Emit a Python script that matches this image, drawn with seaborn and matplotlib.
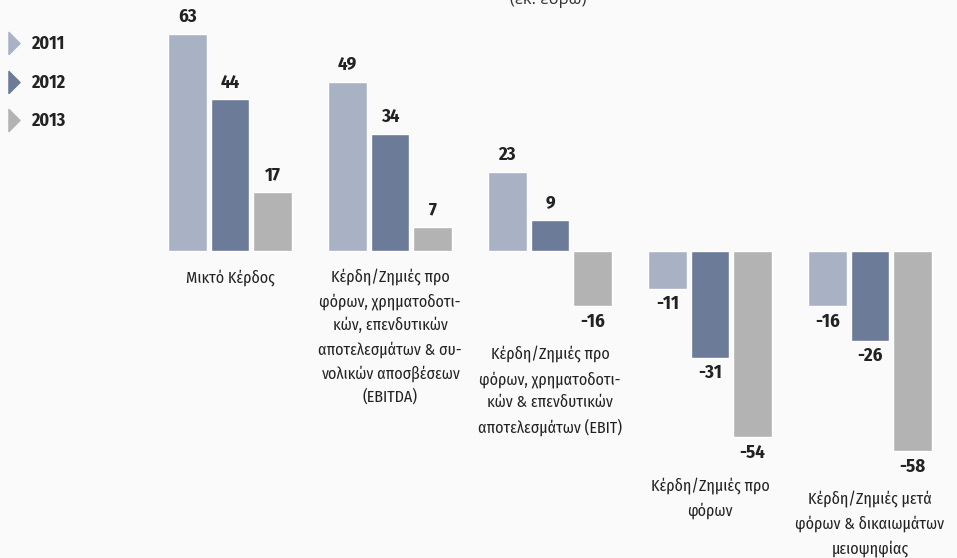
import matplotlib
matplotlib.use("Agg")
import matplotlib.pyplot as plt
from matplotlib.lines import Line2D
import pandas as pd
import seaborn as sns

categories = [
    "Μικτό Κέρδος",
    "Κέρδη/Ζημιές προ\nφόρων, χρηματοδοτι-\nκών, επενδυτικών\nαποτελεσμάτων & συ-\nνολικών αποσβέσεων\n(EBITDA)",
    "Κέρδη/Ζημιές προ\nφόρων, χρηματοδοτι-\nκών & επενδυτικών\nαποτελεσμάτων (EBIT)",
    "Κέρδη/Ζημιές προ\nφόρων",
    "Κέρδη/Ζημιές μετά\nφόρων & δικαιωμάτων\nμειοψηφίας",
]
years = ["2011", "2012", "2013"]
v2011 = [63, 49, 23, -11, -16]
v2012 = [44, 34, 9, -31, -26]
v2013 = [17, 7, -16, -54, -58]
colors = ["#a9b2c5", "#6b7b98", "#b3b3b3"]

rows = []
for yr, vals in zip(years, [v2011, v2012, v2013]):
    for c, v in zip(categories, vals):
        rows.append({"category": c, "year": yr, "value": v})
df = pd.DataFrame(rows)

sns.set_theme(style="white")
plt.rcParams["font.family"] = ["Fira Sans Condensed", "DejaVu Sans"]

bg = "#fafafa"
fig = plt.figure(figsize=(9.57, 5.58), dpi=100, facecolor=bg)
ax = fig.add_axes([0, 0, 1, 1], facecolor=bg)

sns.barplot(data=df, x="category", y="value", hue="year", palette=colors,
            width=0.8, gap=0.09, ax=ax, legend=False, saturation=1)

# group 0 centred at x=230 px, 160 px per group; baseline at y=251 px, 3.45 px per unit
ax.set_xlim(-230 / 160, (957 - 230) / 160)
ax.set_ylim(-(558 - 251) / 3.45, 251 / 3.45)
ax.axis("off")

txt = "#222222"
for cont in ax.containers:
    for bar in cont:
        h = bar.get_height()
        x = bar.get_x() + bar.get_width() / 2
        off = 12 if h >= 0 else -11
        ax.annotate(f"{h:.0f}", (x, h), xytext=(0, off), textcoords="offset points",
                    ha="center", va="center", fontsize=13.5, fontweight="bold", color=txt)

mins = [min(0, a, b, c) for a, b, c in zip(v2011, v2012, v2013)]
for i, (cat, m) in enumerate(zip(categories, mins)):
    off = -13 if m >= 0 else -29
    ax.annotate(cat, (i, m), xytext=(0, off), textcoords="offset points",
                ha="center", va="top", fontsize=11.5, color=txt, linespacing=1.55)

verts = [(-0.5, -1), (0.5, 0), (-0.5, 1), (-0.5, -1)]
handles = [Line2D([], [], ls="", marker=verts, markersize=16, color=c) for c in colors]
leg = ax.legend(handles, years, loc="upper left", bbox_to_anchor=(0.0, 1 - 30 / 558),
                frameon=False, prop={"weight": "bold", "size": 13}, labelspacing=1.15,
                handlelength=1.0, handletextpad=0.4, borderaxespad=0, borderpad=0.3)
for t in leg.get_texts():
    t.set_color(txt)

fig.text(548 / 957, 1 - 4 / 558, "(εκ. ευρώ)", ha="center", va="baseline",
         fontsize=12, color="#333333", family=["Open Sans", "DejaVu Sans"])

fig.savefig("out.png", dpi=100, facecolor=bg)
